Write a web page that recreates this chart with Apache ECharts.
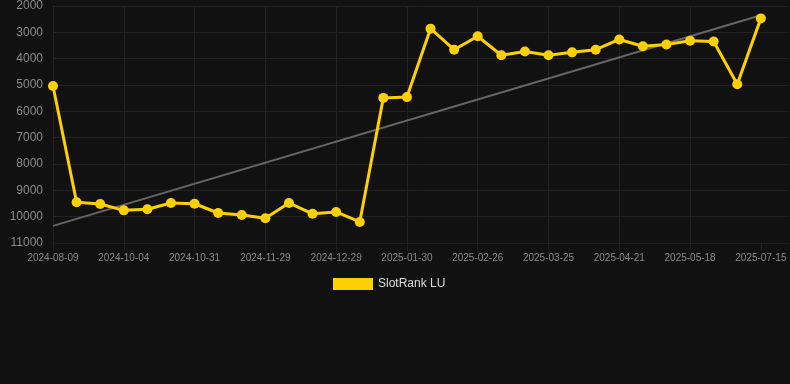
<!DOCTYPE html>
<html lang="en">

<head>
  <meta charset="UTF-8">
  <title>SlotRank LU</title>
  <script src="https://cdn.jsdelivr.net/npm/echarts@6/dist/echarts.min.js"></script>
  <style>
    html, body { margin: 0; padding: 0; background: #111111; }
  </style>
</head>

<body>
  <div id="main" style="width: 790px;height:384px;"></div>
  <script>
    var myChart = echarts.init(document.getElementById('main'));

    // 日期（每隔 3 個顯示一個標籤）
    var dates = [
      '2024-08-09', '2024-08-28', '2024-09-16', '2024-10-04', '2024-10-13', '2024-10-22',
      '2024-10-31', '2024-11-09', '2024-11-19', '2024-11-29', '2024-12-09', '2024-12-19',
      '2024-12-29', '2025-01-09', '2025-01-19', '2025-01-30', '2025-02-08', '2025-02-17',
      '2025-02-26', '2025-03-07', '2025-03-16', '2025-03-25', '2025-04-03', '2025-04-12',
      '2025-04-21', '2025-04-30', '2025-05-09', '2025-05-18', '2025-06-06', '2025-06-25',
      '2025-07-15'
    ];
    // 排名
    var ranks = [
      5040, 9450, 9520, 9760, 9720, 9480, 9510, 9860, 9940, 10060, 9480, 9890,
      9820, 10200, 5490, 5460, 2860, 3660, 3150, 3870, 3730, 3870, 3760, 3660,
      3270, 3530, 3460, 3320, 3350, 4970, 2470
    ];
    // 趨勢線兩端
    var trend = [10350, 2350];

    var points = dates.map(function (d, i) { return [i, ranks[i]]; });
    var trendPoints = [[0, trend[0]], [dates.length - 1, trend[1]]];
    // 有標籤的位置
    var tickIdx = [];
    for (var i = 0; i < dates.length; i += 3) tickIdx.push(i);

    myChart.setOption({
      backgroundColor: '#111111',
      animation: false,
      grid: { left: 53, right: 2, top: 6, bottom: 141 },
      legend: {
        data: ['SlotRank LU'],
        top: 273,
        left: 328,
        itemWidth: 40,
        itemHeight: 12,
        itemGap: 6,
        icon: 'rect',
        textStyle: { color: '#dddddd', fontSize: 12, fontFamily: 'Liberation Sans, Arial' }
      },
      xAxis: {
        type: 'value',
        min: 0,
        max: 31.15,
        interval: 3,
        axisLine: { show: true, lineStyle: { color: '#1e1e1e' } },
        axisTick: {
          show: true,
          length: 8,
          customValues: tickIdx,
          lineStyle: { color: '#222222' }
        },
        axisLabel: {
          color: '#8a8a8a',
          fontSize: 10,
          fontFamily: 'Liberation Sans, Arial',
          margin: 10,
          customValues: tickIdx,
          formatter: function (v) { return dates[v] || ''; }
        },
        splitLine: { show: true, showMaxLine: false, lineStyle: { color: '#222222' } }
      },
      yAxis: {
        type: 'value',
        inverse: true,
        min: 2000,
        max: 11000,
        interval: 1000,
        axisLine: { show: false },
        axisTick: { show: false },
        axisLabel: {
          color: '#8a8a8a',
          fontSize: 12,
          fontFamily: 'Liberation Sans, Arial',
          margin: 10,
          formatter: function (v) { return String(v); }
        },
        splitLine: { show: true, lineStyle: { color: '#222222' } }
      },
      series: [
        {
          name: 'trend',
          type: 'line',
          data: trendPoints,
          symbol: 'none',
          lineStyle: { color: '#666666', width: 2 },
          z: 1
        },
        {
          name: 'SlotRank LU',
          type: 'line',
          data: points,
          symbol: 'circle',
          symbolSize: 10,
          itemStyle: { color: '#ffd000' },
          lineStyle: { color: '#ffd000', width: 3 },
          z: 2
        }
      ]
    });
  </script>
</body>

</html>
